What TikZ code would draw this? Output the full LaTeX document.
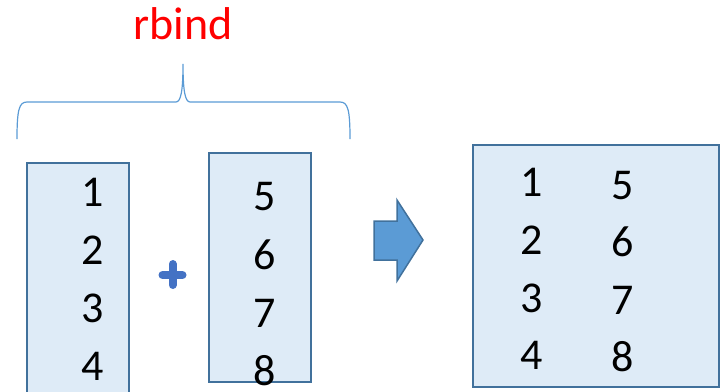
\documentclass[tikz,border=0pt]{standalone}
\usepackage{fontspec}
\setmainfont{Carlito}
\definecolor{boxfill}{HTML}{DEEBF7}
\definecolor{boxline}{HTML}{41719C}
\definecolor{plusblue}{HTML}{4472C4}
\definecolor{arrowfill}{HTML}{5B9BD5}
\definecolor{bracecol}{HTML}{5B9BD5}
\begin{document}
\begin{tikzpicture}[x=1pt,y=-1pt,
  box/.style={draw=boxline, fill=boxfill, line width=1.5pt, inner sep=0pt},
  num/.style={font=\fontsize{44}{44}\selectfont, inner sep=0pt},
  title/.style={font=\fontsize{46}{46}\selectfont, text=red, inner sep=0pt}]
\useasboundingbox (0,0) rectangle (720,391);
% boxes
\node[box, minimum width=102pt, minimum height=234pt] (A) at (78,280) {};
\node[box, minimum width=102pt, minimum height=229pt] (B) at (260,267.5) {};
\node[box, minimum width=246pt, minimum height=242pt] (C) at (596,266) {};
% numbers in left box
\node[num] (a1) at (93,192) {1};
\node[num] (a2) at (93,250) {2};
\node[num] (a3) at (93,308) {3};
\node[num] (a4) at (93,366) {4};
% numbers in second box
\node[num] (b1) at (265,197) {5};
\node[num] (b2) at (265,255) {6};
\node[num] (b3) at (265,313) {7};
\node[num] (b4) at (265,371) {8};
% numbers in result box
\node[num] (c1) at (532,182) {1};
\node[num] (c2) at (532,240) {2};
\node[num] (c3) at (532,298) {3};
\node[num] (c4) at (532,355) {4};
\node[num] (d1) at (623,186) {5};
\node[num] (d2) at (623,242) {6};
\node[num] (d3) at (623,300) {7};
\node[num] (d4) at (623,357) {8};
% plus
\draw[plusblue, line width=8pt, line cap=round] (162.5,275) -- (182.5,275);
\draw[plusblue, line width=8pt, line cap=round] (172.7,264) -- (172.7,285);
% arrow
\draw[fill=arrowfill, draw=boxline, line width=1.5pt, line join=miter]
  (374,221) -- (397,221) -- (397,200) -- (423,240) -- (397,281) -- (397,260) -- (374,260) -- cycle;
% brace
\draw[bracecol, line width=1.2pt]
  (17,139) .. controls (17,110) and (19,102) .. (27,102) -- (176,102)
  .. controls (181,102) and (183,90) .. (183,64)
  .. controls (183,90) and (185,102) .. (190,102) -- (340,102)
  .. controls (348,102) and (350,110) .. (350,139);
% title
\node[title, anchor=base] (T) at (183,39) {rbind};
\end{tikzpicture}
\end{document}
